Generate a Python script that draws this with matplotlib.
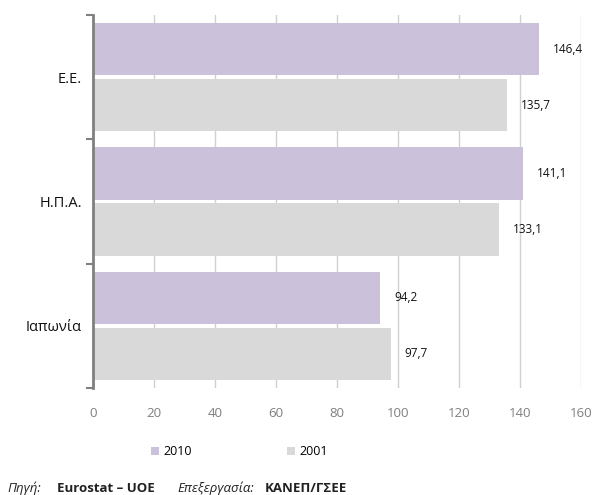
import matplotlib.pyplot as plt
from matplotlib.ticker import FixedLocator

countries = ['Ε.Ε.', 'Η.Π.Α.', 'Ιαπωνία']
vals_2010 = [146.4, 141.1, 94.2]
vals_2001 = [135.7, 133.1, 97.7]
xticks = [0, 20, 40, 60, 80, 100, 120, 140, 160]

c2010 = '#CCC1DA'
c2001 = '#D9D9D9'

plt.rcParams['font.family'] = ['Open Sans', 'DejaVu Sans']

fig = plt.figure(figsize=(6.13, 4.95), dpi=100)
ax = fig.add_axes([0.1517, 0.2162, 0.796, 0.7535])

pos = list(range(len(countries)))
h = 0.42
off = 0.225
b1 = ax.barh([p - off for p in pos], vals_2010, height=h, color=c2010, label='2010', zorder=2)
b2 = ax.barh([p + off for p in pos], vals_2001, height=h, color=c2001, label='2001', zorder=2)

def fmt(v):
    return ('%.1f' % v).replace('.', ',')

for bars, vals in [(b1, vals_2010), (b2, vals_2001)]:
    for bar, v in zip(bars, vals):
        ax.annotate(fmt(v), (v, bar.get_y() + bar.get_height() / 2),
                    xytext=(10, 0), textcoords='offset points',
                    va='center', ha='left', fontsize=8.5, color='#111111')

ax.set_xlim(0, 160)
ax.set_ylim(2.5, -0.5)
ax.set_xticks(xticks)
ax.tick_params(axis='x', length=0, pad=14, labelsize=9.5, labelcolor='#7f7f7f')
ax.set_yticks(pos)
ax.set_yticklabels(countries, fontsize=10.5, color='#111111')
ax.tick_params(axis='y', which='major', length=0, pad=8)
ax.yaxis.set_minor_locator(FixedLocator([-0.5, 0.5, 1.5, 2.5]))
ax.tick_params(axis='y', which='minor', length=5, width=1.5, color='#808080')

ax.grid(axis='x', color='#D0D0D0', linewidth=1, zorder=0)
for s in ['top', 'right', 'bottom']:
    ax.spines[s].set_visible(False)
ax.spines['left'].set_color('#808080')
ax.spines['left'].set_linewidth(2)
ax.spines['left'].set_zorder(3)

fig.legend(handles=[b1, b2], labels=['2010', '2001'], loc='center',
           bbox_to_anchor=(0.39, 0.087), ncol=2, frameon=False,
           fontsize=9, handlelength=0.7, handleheight=0.7,
           columnspacing=7.6, handletextpad=0.3)

fig.text(0.012, 0.006, 'Πηγή:', fontsize=9.5, style='italic', color='#222222')
fig.text(0.093, 0.006, 'Eurostat – UOE', fontsize=9.5, weight='bold', color='#222222')
fig.text(0.29, 0.006, 'Επεξεργασία:', fontsize=9.5, style='italic', color='#222222')
fig.text(0.432, 0.006, 'ΚΑΝΕΠ/ΓΣΕΕ', fontsize=9.5, weight='bold', color='#222222')

fig.savefig('out.png', dpi=100)
